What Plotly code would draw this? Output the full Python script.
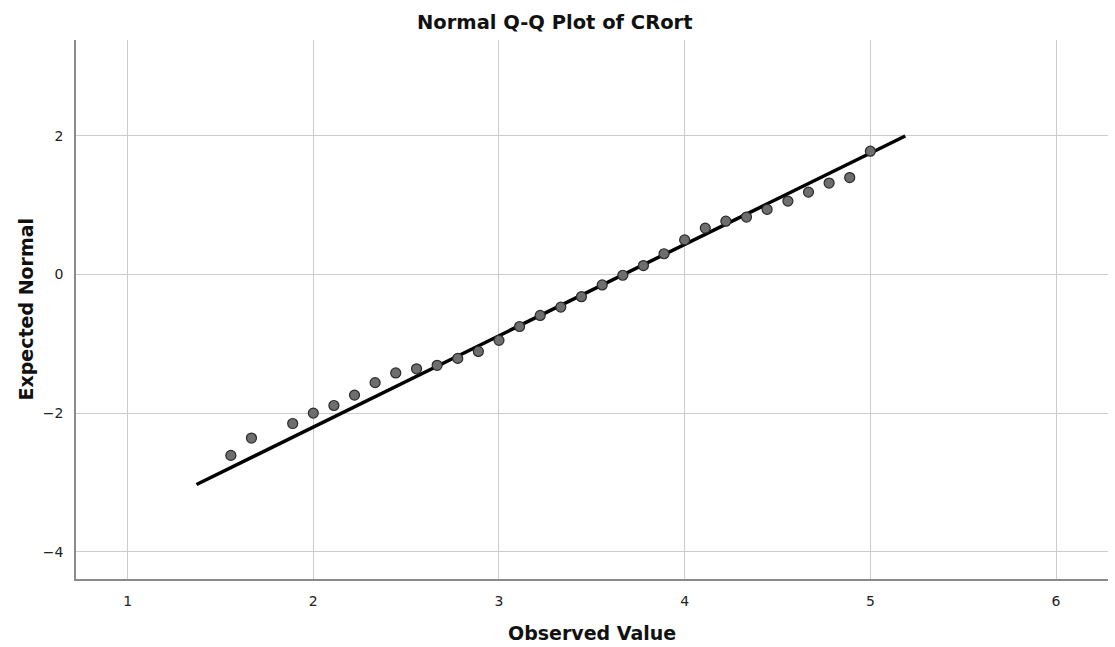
import plotly.graph_objects as go

observed = [1.556, 1.667, 1.889, 2.0, 2.111, 2.222, 2.333, 2.444, 2.556, 2.667,
            2.778, 2.889, 3.0, 3.111, 3.222, 3.333, 3.444, 3.556, 3.667, 3.778,
            3.889, 4.0, 4.111, 4.222, 4.333, 4.444, 4.556, 4.667, 4.778, 4.889, 5.0]
expected = [-2.61, -2.36, -2.15, -2.00, -1.89, -1.74, -1.56, -1.42, -1.36, -1.31,
            -1.21, -1.11, -0.95, -0.75, -0.59, -0.47, -0.32, -0.15, -0.01, 0.13,
            0.30, 0.50, 0.67, 0.77, 0.83, 0.94, 1.06, 1.19, 1.32, 1.40, 1.78]

# reference line endpoints
line_x = [1.371, 5.188]
line_y = [-3.03, 2.0]

x_ticks = [1, 2, 3, 4, 5, 6]
y_ticks = [-4, -2, 0, 2]

FONT = "DejaVu Sans, Verdana, sans-serif"
W, H = 1115, 647
L, R, T, B = 76, 7, 40, 68
pw = W - L - R
ph = H - T - B

fig = go.Figure()
fig.add_trace(go.Scatter(x=line_x, y=line_y, mode="lines",
                         line=dict(color="black", width=3.5),
                         showlegend=False, hoverinfo="skip"))
fig.add_trace(go.Scatter(x=observed, y=expected, mode="markers",
                         marker=dict(size=10, color="#6e6e6e",
                                     line=dict(color="#2a2a2a", width=1.2)),
                         showlegend=False))

fig.update_layout(
    width=W, height=H,
    margin=dict(l=L, r=R, t=T, b=B, autoexpand=False),
    paper_bgcolor="white", plot_bgcolor="white",
    font=dict(family=FONT, color="#222222"),
    xaxis=dict(range=[0.722, 6.28], tickvals=x_ticks, ticktext=[str(v) for v in x_ticks],
               showgrid=True, gridcolor="#cccccc", gridwidth=1, zeroline=False,
               showline=True, linecolor="#8a8a8a", linewidth=1.5,
               ticks="", ticklabelstandoff=8,
               tickfont=dict(size=14, color="#222222", family=FONT)),
    yaxis=dict(range=[-4.394, 3.385], tickvals=y_ticks,
               ticktext=["\u22124", "\u22122", "0", "2"],
               showgrid=True, gridcolor="#cccccc", gridwidth=1, zeroline=False,
               showline=True, linecolor="#8a8a8a", linewidth=1.5,
               ticks="", ticklabelstandoff=8,
               tickfont=dict(size=14, color="#222222", family=FONT)),
    annotations=[
        dict(text="<b>Normal Q-Q Plot of CRort</b>", xref="paper", yref="paper",
             x=(555 - L) / pw, y=1 + (T - 22) / ph, xanchor="center", yanchor="middle",
             showarrow=False, font=dict(size=19.5, family=FONT, color="#111111")),
        dict(text="<b>Observed Value</b>", xref="paper", yref="paper",
             x=(592 - L) / pw, y=-(633 - (T + ph)) / ph, xanchor="center", yanchor="middle",
             showarrow=False, font=dict(size=19, family=FONT, color="#111111")),
        dict(text="<b>Expected Normal</b>", xref="paper", yref="paper",
             x=-(L - 25) / pw, y=0.5, xanchor="center", yanchor="middle", textangle=-90,
             showarrow=False, font=dict(size=19, family=FONT, color="#111111")),
    ],
)

fig.write_html("out.html")
